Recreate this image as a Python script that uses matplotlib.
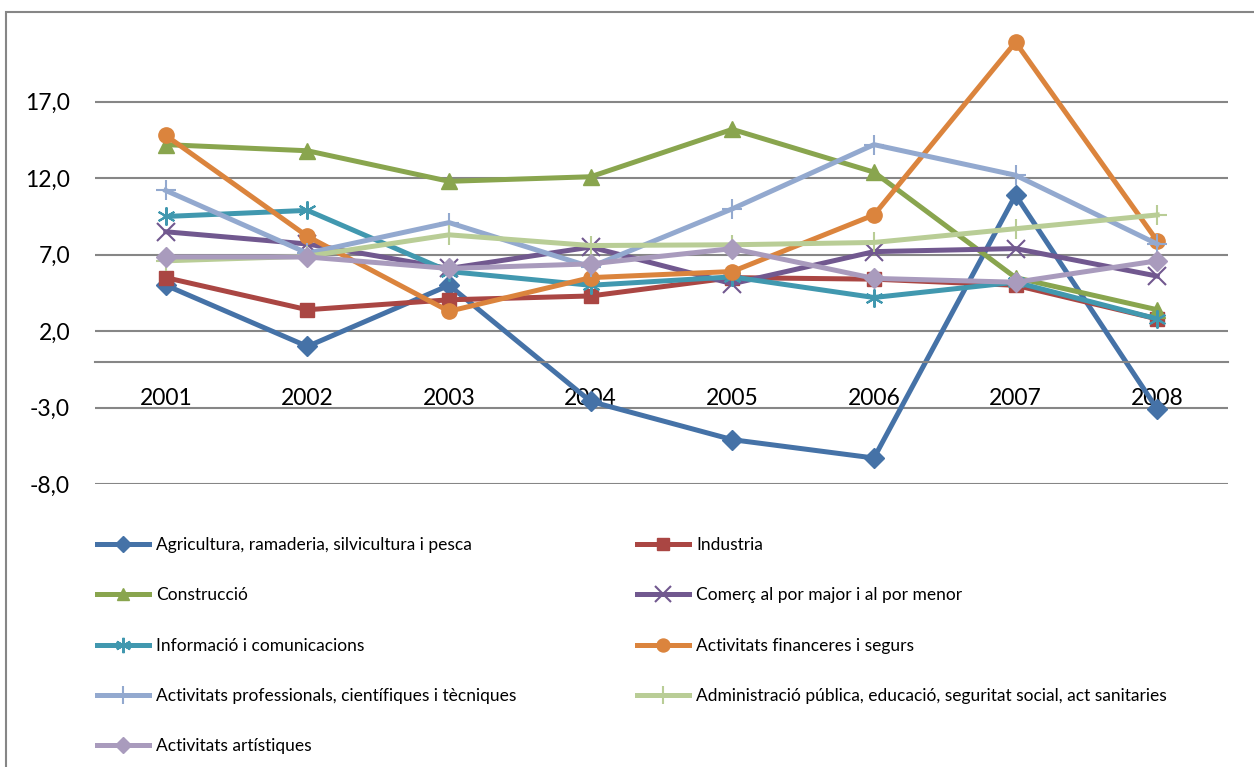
import matplotlib.pyplot as plt
from matplotlib.patches import Rectangle

plt.rcParams['font.family'] = ['Lato', 'DejaVu Sans']

years = ['2001', '2002', '2003', '2004', '2005', '2006', '2007', '2008']
agricultura = [5.0, 1.0, 5.0, -2.6, -5.1, -6.3, 10.9, -3.1]
industria = [5.5, 3.4, 4.05, 4.3, 5.5, 5.4, 5.0, 2.8]
construccio = [14.2, 13.8, 11.8, 12.1, 15.2, 12.4, 5.5, 3.4]
comerc = [8.5, 7.7, 6.1, 7.5, 5.1, 7.2, 7.4, 5.6]
informacio = [9.5, 9.9, 5.9, 5.0, 5.55, 4.2, 5.2, 2.8]
financeres = [14.8, 8.2, 3.3, 5.5, 5.9, 9.6, 20.9, 7.9]
professionals = [11.2, 7.1, 9.1, 6.2, 10.0, 14.2, 12.2, 7.7]
administracio = [6.6, 6.9, 8.3, 7.6, 7.65, 7.8, 8.7, 9.6]
artistiques = [6.85, 6.85, 6.1, 6.4, 7.4, 5.45, 5.2, 6.6]
yticks = [-8, -3, 2, 7, 12, 17]

series = [
    ('Agricultura, ramaderia, silvicultura i pesca', agricultura, '#4572A7', 'D', 10, 0),
    ('Industria', industria, '#AA4643', 's', 10, 0),
    ('Construcció', construccio, '#89A54E', '^', 11, 0),
    ('Comerç al por major i al por menor', comerc, '#71588F', 'x', 13, 1.5),
    ('Informació i comunicacions', informacio, '#4198AF', (6, 2, 0), 13, 1.5),
    ('Activitats financeres i segurs', financeres, '#DB843D', 'o', 11, 0),
    ('Activitats professionals, científiques i tècniques', professionals, '#93A9CF', '+', 15, 1.5),
    ('Administració pública, educació, seguritat social, act sanitaries', administracio, '#B9CD96', '+', 15, 1.5),
    ('Activitats artístiques', artistiques, '#A99BBD', 'D', 10, 0),
]

fig = plt.figure(figsize=(12.54, 7.67), dpi=100)
# outer chart border
fig.patches.append(Rectangle((6 / 1254, -0.01), 1.0, 1 - 12 / 767 + 0.01, transform=fig.transFigure,
                             fill=False, edgecolor='#868686', lw=1.5))

ax = fig.add_axes([95 / 1254, 1 - 484 / 767, (1228 - 95) / 1254, (484 - 25.4) / 767])
x = range(len(years))
handles = []
for name, vals, col, mk, ms, mew in series:
    if mew:
        h, = ax.plot(x, vals, color=col, lw=3.6, marker=mk, ms=ms, mew=mew, mec=col, label=name)
    else:
        h, = ax.plot(x, vals, color=col, lw=3.6, marker=mk, ms=ms, mec=col, mfc=col, label=name)
    handles.append(h)

ax.set_xlim(-0.5, 7.5)
ax.set_ylim(-8, 22)
ax.set_yticks(yticks)
ax.set_yticklabels([('%.1f' % v).replace('.', ',') for v in yticks])
ax.set_xticks(list(x))
ax.set_xticklabels(years)
ax.grid(axis='y', color='#868686', lw=1.5)
ax.set_axisbelow(True)
for s in ['left', 'right', 'top']:
    ax.spines[s].set_visible(False)
ax.spines['bottom'].set_position(('data', 0))
ax.spines['bottom'].set_color('#868686')
ax.spines['bottom'].set_linewidth(1.5)
ax.tick_params(axis='y', length=0, pad=18, labelsize=16.5)
ax.tick_params(axis='x', length=0, pad=19, labelsize=16.5)

leg_kw = dict(loc='upper left', bbox_transform=fig.transFigure, frameon=False, fontsize=12.5,
              handlelength=3.0, handletextpad=0.4, labelspacing=1.98, borderpad=0, borderaxespad=0,
              markerscale=0.85)
leg1 = ax.legend(handles=[handles[i] for i in [0, 2, 4, 6, 8]], bbox_to_anchor=(97 / 1254, 1 - 537 / 767), **leg_kw)
ax.add_artist(leg1)
ax.legend(handles=[handles[i] for i in [1, 3, 5, 7]], bbox_to_anchor=(637 / 1254, 1 - 537 / 767), **leg_kw)

plt.savefig('out.png', dpi=100)
